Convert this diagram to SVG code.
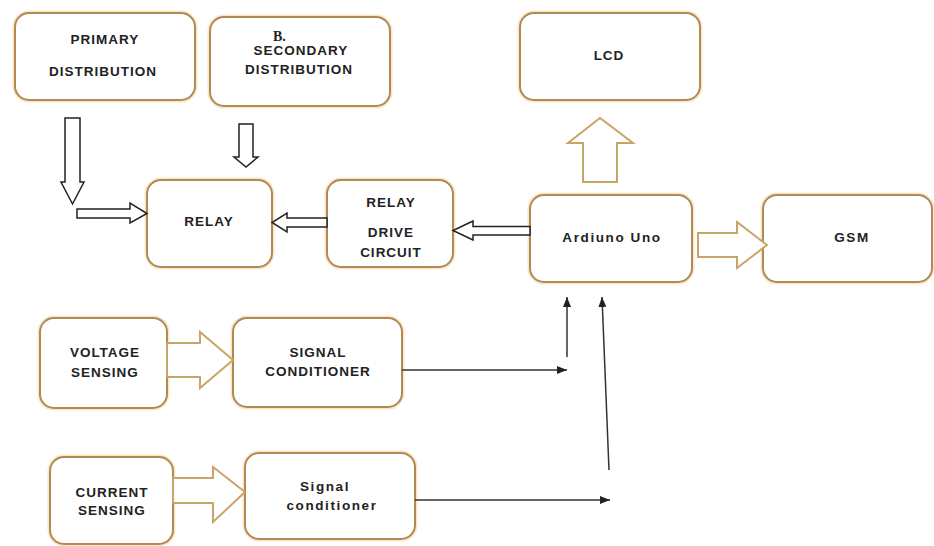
<svg xmlns="http://www.w3.org/2000/svg" width="934" height="546" viewBox="0 0 934 546">
<defs>
<style>
.box{fill:#fff;stroke:#b08a55;stroke-width:2}
.glow{fill:none;stroke:#fbe6c8;stroke-width:5}
.t{font-family:"Liberation Sans",Arial,sans-serif;font-weight:bold;font-size:13.5px;fill:#222;text-anchor:middle;letter-spacing:1px}
.tl{letter-spacing:1.6px}
.ha{fill:#fff;stroke:#222;stroke-width:1.5;stroke-linejoin:miter}
.ta{fill:#fff;stroke:#c9a468;stroke-width:2;stroke-linejoin:miter}
.ln{fill:none;stroke:#333;stroke-width:1.5}
</style>
<marker id="ah" viewBox="0 0 10 8" refX="10" refY="4" markerWidth="10" markerHeight="8" markerUnits="userSpaceOnUse" orient="auto">
<path d="M0,0 L10,4 L0,8 z" fill="#222"/>
</marker>
</defs>
<rect width="934" height="546" fill="#fff"/>

<g id="primary">
<rect class="glow" x="15" y="13" width="180" height="87" rx="14"/>
<rect class="box" x="15" y="13" width="180" height="87" rx="14"/>
<text class="t" x="105" y="44">PRIMARY</text>
<text class="t" x="103" y="76">DISTRIBUTION</text>
</g>

<g id="secondary">
<rect class="glow" x="210" y="17" width="180" height="89" rx="14"/>
<rect class="box" x="210" y="17" width="180" height="89" rx="14"/>
<text x="273" y="41" font-family="Liberation Serif,serif" font-weight="bold" font-size="14" fill="#222">B.</text>
<text class="t" x="301" y="55">SECONDARY</text>
<text class="t" x="299" y="74">DISTRIBUTION</text>
</g>

<g id="lcd">
<rect class="glow" x="520" y="13" width="180" height="87" rx="14"/>
<rect class="box" x="520" y="13" width="180" height="87" rx="14"/>
<text class="t" x="609" y="60">LCD</text>
</g>

<g id="relay">
<rect class="glow" x="147" y="180" width="125" height="87" rx="14"/>
<rect class="box" x="147" y="180" width="125" height="87" rx="14"/>
<text class="t" x="209" y="226">RELAY</text>
</g>

<g id="relay-drive">
<rect class="glow" x="327" y="180" width="126" height="87" rx="14"/>
<rect class="box" x="327" y="180" width="126" height="87" rx="14"/>
<text class="t" x="391" y="207">RELAY</text>
<text class="t" x="391" y="237">DRIVE</text>
<text class="t" x="391" y="257">CIRCUIT</text>
</g>

<g id="arduino">
<rect class="glow" x="530" y="195" width="162" height="87" rx="14"/>
<rect class="box" x="530" y="195" width="162" height="87" rx="14"/>
<text class="t tl" x="612" y="242">Ardiuno Uno</text>
</g>

<g id="gsm">
<rect class="glow" x="763" y="195" width="169" height="87" rx="14"/>
<rect class="box" x="763" y="195" width="169" height="87" rx="14"/>
<text class="t tl" x="852" y="242">GSM</text>
</g>

<g id="voltage-sensing">
<rect class="glow" x="40" y="318" width="127" height="90" rx="14"/>
<rect class="box" x="40" y="318" width="127" height="90" rx="14"/>
<text class="t" x="105" y="357">VOLTAGE</text>
<text class="t" x="105" y="377">SENSING</text>
</g>

<g id="signal-conditioner-1">
<rect class="glow" x="233" y="318" width="169" height="89" rx="14"/>
<rect class="box" x="233" y="318" width="169" height="89" rx="14"/>
<text class="t" x="318" y="357">SIGNAL</text>
<text class="t" x="318" y="376">CONDITIONER</text>
</g>

<g id="current-sensing">
<rect class="glow" x="50" y="457" width="123" height="87" rx="14"/>
<rect class="box" x="50" y="457" width="123" height="87" rx="14"/>
<text class="t" x="112" y="497">CURRENT</text>
<text class="t" x="112" y="515">SENSING</text>
</g>

<g id="signal-conditioner-2">
<rect class="glow" x="245" y="453" width="170" height="86" rx="14"/>
<rect class="box" x="245" y="453" width="170" height="86" rx="14"/>
<text class="t tl" x="325" y="491">Signal</text>
<text class="t tl" x="332" y="510">conditioner</text>
</g>

<g id="connectors">
<polygon class="ha" points="65,118 80,118 80,182 84,182 72.5,204 61,182 65,182"/>
<polygon class="ha" points="77,209 130,209 130,203 147,213.5 130,223 130,218 77,218"/>
<polygon class="ha" points="239,124 253,124 253,157 258,157 246,167 234,157 239,157"/>
<polygon class="ha" points="327,218 287,218 287,213 272,222.5 287,232 287,227 327,227"/>
<polygon class="ha" points="530,226.5 473,226.5 473,221 453,230.5 473,240 473,235 530,235"/>
<polygon class="ta" points="583,182 583,143 568,143 600,118 633,143 617,143 617,182"/>
<polygon class="ta" points="698,233 737,233 737,222 767,245 737,268 737,257 698,257"/>
<polygon class="ta" points="167,343 200,343 200,332 233,360 200,388 200,377 167,377"/>
<polygon class="ta" points="173,478 213,478 213,467 245,492 213,522 213,503 173,503"/>
<line class="ln" x1="402" y1="370" x2="567" y2="370" marker-end="url(#ah)"/>
<line class="ln" x1="567" y1="357" x2="567" y2="297" marker-end="url(#ah)"/>
<line class="ln" x1="415" y1="500" x2="610" y2="500" marker-end="url(#ah)"/>
<line class="ln" x1="609" y1="470" x2="602" y2="297" marker-end="url(#ah)"/>
</g>
</svg>
